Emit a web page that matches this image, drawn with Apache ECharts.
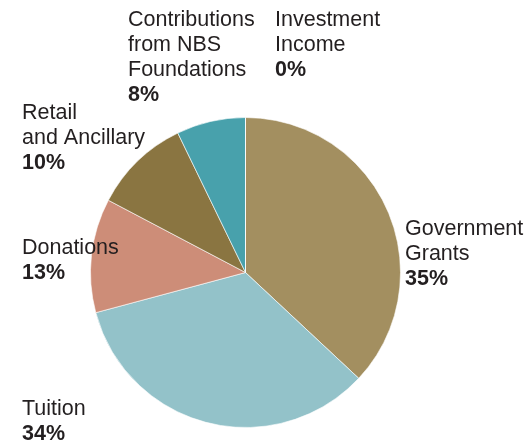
<!DOCTYPE html>
<html>
<head>
<meta charset="utf-8">
<script src="https://cdn.jsdelivr.net/npm/echarts@6/dist/echarts.min.js"></script>
<style>html,body{margin:0;padding:0;background:#fff;}#c{width:530px;height:443px;}</style>
</head>
<body>
<div id="c"></div>
<script>
// Data
var categories = ['Government\nGrants', 'Tuition', 'Donations', 'Retail\nand Ancillary', 'Contributions\nfrom NBS\nFoundations', 'Investment\nIncome'];
var values = [37.0, 33.9, 11.9, 10.1, 7.2, 0];
var percentLabels = ['35%', '34%', '13%', '10%', '8%', '0%'];

// Styling / layout (not data)
var colors = ['#A38F60', '#93C2C9', '#CD8D78', '#8A7541', '#48A1AC', '#3F6F7A'];
var labelPos = [[405, 217], [22, 397], [22, 236], [22, 101], [128, 8], [275, 8]];

var chart = echarts.init(document.getElementById('c'), null, {renderer: 'canvas'});
chart.setOption({
  animation: false,
  series: [{
    type: 'pie',
    center: [245.5, 272.5],
    radius: 155,
    startAngle: 90,
    clockwise: true,
    avoidLabelOverlap: false,
    itemStyle: {borderColor: '#ffffff', borderWidth: 0.6},
    emphasis: {disabled: true},
    labelLine: {show: false},
    label: {
      show: true,
      position: 'outside',
      formatter: function (p) { return '{n|' + p.name + '}\n{p|' + percentLabels[p.dataIndex] + '}'; },
      rich: {
        n: {fontFamily: 'Liberation Sans, Arial, sans-serif', fontSize: 21.5, lineHeight: 25, color: '#231f20'},
        p: {fontFamily: 'Liberation Sans, Arial, sans-serif', fontSize: 21.5, lineHeight: 25, fontWeight: 'bold', color: '#231f20'}
      }
    },
    labelLayout: function (params) {
      var pos = labelPos[params.dataIndex];
      return {x: pos[0], y: pos[1], align: 'left', verticalAlign: 'top'};
    },
    data: categories.map(function (c, i) {
      return {name: c, value: values[i], itemStyle: {color: colors[i]}};
    })
  }]
});
</script>
</body>
</html>
